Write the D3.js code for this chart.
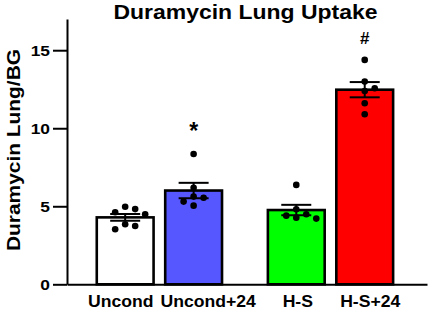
<!DOCTYPE html>
<html>
<head>
<meta charset="utf-8">
<script src="https://cdn.jsdelivr.net/npm/d3@7"></script>
<style>
  html, body { margin: 0; padding: 0; background: #fff; }
  svg { display: block; font-family: "Liberation Sans", Arial, sans-serif; font-weight: bold; }
</style>
</head>
<body>
<svg></svg>
<script>
// values
const categories = ['Uncond', 'Uncond+24', 'H-S', 'H-S+24']
const uncond = [4.97, 4.82, 4.62, 4.49, 3.85, 3.74, 3.53]
const uncond24 = [8.35, 6.19, 5.62, 5.55, 5.30, 5.04]
const hs = [6.37, 4.81, 4.49, 4.40, 4.27, 4.21]
const hs24 = [14.38, 12.99, 12.56, 12.39, 11.60, 10.90]
const marks = ['', '*', '', '#']
const yTicks = [0, 5, 10, 15]

const colours = ['#ffffff', '#5757ff', '#00ff00', '#ff0000']
const labelShift = [-5, 14, 1, 5]

const W = 429, H = 310
const svg = d3.select('svg').attr('width', W).attr('height', H)

// gap of half a bar between the two pairs
const slot = i => i + (i >= 2 ? 0.5 : 0)

const x = d3.scaleLinear().domain([-0.85, 4.41]).range([67, 427])
const y = d3.scaleLinear().domain([0, 17]).range([284.3, 19])
const barW = x(0.83) - x(0)

const groups = [uncond, uncond24, hs, hs24].map((v, i) => ({
  name: categories[i],
  values: v,
  mean: d3.mean(v),
  sem: d3.deviation(v) / Math.sqrt(v.length),
  colour: colours[i],
  mark: marks[i],
  cx: x(slot(i))
}))

// bars
svg.append('g')
  .selectAll('rect')
  .data(groups)
  .join('rect')
  .attr('x', d => d.cx - barW / 2)
  .attr('y', d => y(d.mean))
  .attr('width', barW)
  .attr('height', d => y(0) - y(d.mean))
  .attr('fill', d => d.colour)
  .attr('stroke', '#000')
  .attr('stroke-width', 2.6)

// error bars (mean +/- SEM)
const capW = 30
const eb = svg.append('g')
  .attr('stroke', '#000')
  .attr('stroke-width', 2)
  .selectAll('g')
  .data(groups)
  .join('g')
eb.append('line')
  .attr('x1', d => d.cx).attr('x2', d => d.cx)
  .attr('y1', d => y(d.mean - d.sem)).attr('y2', d => y(d.mean + d.sem))
eb.append('line')
  .attr('x1', d => d.cx - capW / 2).attr('x2', d => d.cx + capW / 2)
  .attr('y1', d => y(d.mean + d.sem)).attr('y2', d => y(d.mean + d.sem))
eb.append('line')
  .attr('x1', d => d.cx - capW / 2).attr('x2', d => d.cx + capW / 2)
  .attr('y1', d => y(d.mean - d.sem)).attr('y2', d => y(d.mean - d.sem))

// simple column swarm: centre, right, left, ...
const step = 10, minGap = 7.5
const swarm = function (vals) {
  const cols = {}
  return vals.slice().sort((a, b) => b - a).map(v => {
    const py = y(v)
    const tries = [0, 1, -1, 2, -2, 3, -3]
    for (const k of tries) {
      const col = cols[k] || (cols[k] = [])
      if (col.every(q => Math.abs(q - py) >= minGap)) {
        col.push(py)
        return { off: k * step, py: py }
      }
    }
  })
}

groups.forEach(g => {
  svg.append('g')
    .selectAll('circle')
    .data(swarm(g.values))
    .join('circle')
    .attr('cx', d => g.cx + d.off)
    .attr('cy', d => d.py)
    .attr('r', 3.3)
    .attr('fill', '#000')
})

// significance marks
svg.append('g')
  .selectAll('text')
  .data(groups.filter(d => d.mark))
  .join('text')
  .attr('x', d => d.cx)
  .attr('y', d => y(d3.max(d.values)) - (d.mark === '*' ? 15 : 16))
  .attr('text-anchor', 'middle')
  .attr('font-size', d => d.mark === '*' ? 23 : 17)
  .text(d => d.mark)

// axes
const sy = 1.12
const yAxis = svg.append('g')
  .attr('transform', `translate(${x.range()[0]},0)`)
  .call(d3.axisLeft(y).tickValues(yTicks).tickSize(14).tickPadding(3).tickSizeOuter(0))
yAxis.select('.domain').attr('stroke-width', 2).attr('stroke', '#000')
yAxis.selectAll('.tick line').attr('stroke-width', 2).attr('stroke', '#000')
yAxis.selectAll('.tick text')
  .attr('font-size', 15.5)
  .attr('font-family', null)
  .attr('fill', '#000')
  .attr('x', -17 / sy)
  .attr('transform', `scale(${sy},1)`)

const sx = 1.08
const xAxis = svg.append('g')
  .attr('transform', `translate(0,${y(0)})`)
  .call(d3.axisBottom(x)
    .tickValues(categories.map((c, i) => slot(i)))
    .tickFormat((d, i) => categories[i])
    .tickSize(0).tickPadding(11).tickSizeOuter(0))
xAxis.select('.domain').attr('stroke-width', 2).attr('stroke', '#000')
xAxis.selectAll('.tick text')
  .attr('font-size', 16.3)
  .attr('font-family', null)
  .attr('fill', '#000')
  .attr('x', (d, i) => labelShift[i] / sx)
  .attr('transform', `scale(${sx},1)`)

// title
const st = 1.12
svg.append('text')
  .attr('transform', `scale(${st},1)`)
  .attr('x', 245.5 / st)
  .attr('y', 19)
  .attr('text-anchor', 'middle')
  .attr('font-size', 20.5)
  .text('Duramycin Lung Uptake')

// y label
svg.append('text')
  .attr('transform', 'translate(20,150) rotate(-90) scale(1.1,1)')
  .attr('text-anchor', 'middle')
  .attr('font-size', 19)
  .text('Duramycin Lung/BG')
</script>
</body>
</html>
